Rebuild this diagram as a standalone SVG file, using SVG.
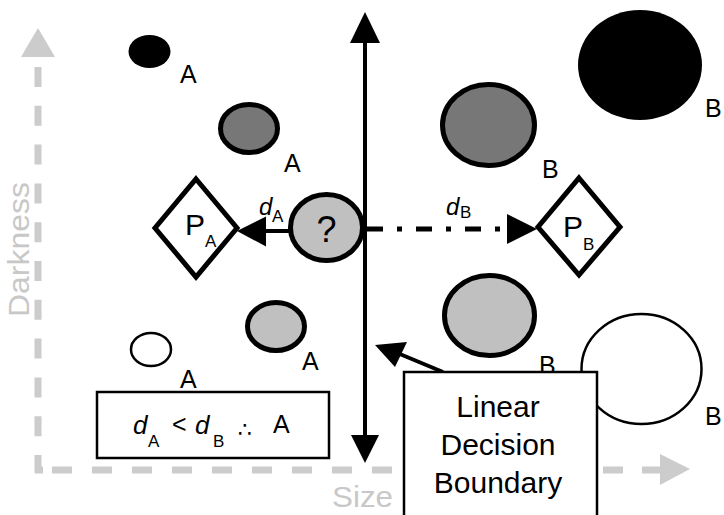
<svg xmlns="http://www.w3.org/2000/svg" width="724" height="515" viewBox="0 0 724 515">
<style>
text{font-family:"Liberation Sans",Arial,"DejaVu Sans",sans-serif;fill:#000}
.lbl{font-size:25px}
.ax{font-size:30px;fill:#c8c8c8}
.axl{stroke:#cccccc;stroke-width:7;fill:none}
.axh{fill:#cccccc}
.thick{stroke:#000;stroke-width:5}
.thin{stroke:#000;stroke-width:2.5}
.dk{fill:#777777}
.lt{fill:#c0c0c0}
.conn{stroke:#000;stroke-width:4;fill:none}
.head{fill:#000}
.it{font-style:italic}
.sub{font-size:17px}
</style>
<rect x="0" y="0" width="724" height="515" fill="#fff"/>
<g id="axes">
  <line class="axl" x1="38" y1="67" x2="38" y2="473" stroke-dasharray="20 18.8"/>
  <polygon class="axh" points="38,28 21,57 55,57"/>
  <path class="axl" d="M35,470H43M52,470H72M92,470H112M132,470H152M172,470H192M212,470H232M252,470H272M292,470H312M332,470H352M372,470H392M603,470H623M642,470H660"/>
  <polygon class="axh" points="690,469 660,454 660,485"/>
  <text class="ax" transform="translate(29,249.5) rotate(-90)" text-anchor="middle" textLength="135" lengthAdjust="spacingAndGlyphs">Darkness</text>
  <text class="ax" x="332" y="507" textLength="61" lengthAdjust="spacingAndGlyphs">Size</text>
</g>
<g id="a1"><ellipse cx="149.5" cy="51.5" rx="21" ry="16.5" fill="#000"/><text class="lbl" x="180" y="83">A</text></g>
<g id="a2"><ellipse class="thick dk" cx="249" cy="128.5" rx="28.5" ry="24"/><text class="lbl" x="284" y="172">A</text></g>
<g id="a3"><ellipse class="thin" fill="#fff" cx="151" cy="349.5" rx="20" ry="16.5"/><text class="lbl" x="180" y="388">A</text></g>
<g id="a4"><ellipse class="thick lt" cx="276" cy="326.5" rx="28.5" ry="24"/><text class="lbl" x="302" y="370">A</text></g>
<g id="b1"><ellipse cx="640" cy="65" rx="62" ry="55" fill="#000"/><text class="lbl" x="705" y="117">B</text></g>
<g id="b2"><ellipse class="thick dk" cx="488.5" cy="125" rx="46" ry="40.5"/><text class="lbl" x="542" y="178">B</text></g>
<g id="b3"><ellipse class="thick lt" cx="489.5" cy="315.5" rx="45" ry="40"/><text class="lbl" x="539" y="374">B</text></g>
<g id="b4"><ellipse class="thin" fill="#fff" cx="641.5" cy="369" rx="60" ry="55"/><text class="lbl" x="705" y="425">B</text></g>
<g id="query"><ellipse class="thick lt" cx="326.5" cy="227.5" rx="36" ry="33"/><text x="326.5" y="242" font-size="36" text-anchor="middle">?</text></g>
<g id="pa"><polygon class="thick" fill="#fff" points="196,179 237,228 196,277 155,228"/><text x="185" y="235" font-size="30">P</text><text class="sub" x="205" y="247">A</text></g>
<g id="pb"><polygon class="thick" fill="#fff" points="579,178 620,227 579,275 538,227"/><text x="563" y="237" font-size="30">P</text><text class="sub" x="583" y="250">B</text></g>
<g id="connectors">
  <line class="conn" x1="290" y1="231" x2="262" y2="231"/>
  <polygon class="head" points="237,231 266,216.5 266,246.5"/>
  <line x1="367" y1="229" x2="508" y2="229" stroke="#000" stroke-width="5" stroke-dasharray="16 14 5 14"/>
  <polygon class="head" points="537,229 507,214 507,244"/>
  <line class="conn" x1="365" y1="40" x2="365" y2="438"/>
  <polygon class="head" points="365,12 350,43 380,43"/>
  <polygon class="head" points="365,463 351,435 379,435"/>
  <line class="conn" x1="443" y1="372" x2="395" y2="352"/>
  <polygon class="head" points="375,345 407,342 395,367"/>
</g>
<g id="da"><text class="it" x="259" y="215" font-size="24">d</text><text x="272" y="222" font-size="17">A</text></g>
<g id="db"><text class="it" x="446" y="215" font-size="24">d</text><text x="460" y="218" font-size="17">B</text></g>
<g id="rule">
  <rect class="thin" fill="#fff" x="97" y="392" width="232" height="66"/>
  <text class="it" x="133" y="434" font-size="26">d</text>
  <text class="sub" x="148" y="447">A</text>
  <text x="172" y="433" font-size="25">&lt;</text>
  <text class="it" x="195" y="434" font-size="26">d</text>
  <text class="sub" x="213" y="447">B</text>
  <text x="238" y="437" font-size="22" font-family="DejaVu Sans">∴</text>
  <text x="273" y="433" font-size="25">A</text>
</g>
<g id="boundary">
  <rect class="thin" fill="#fff" x="404" y="372" width="193" height="150"/>
  <text x="498" y="417" font-size="30" text-anchor="middle">Linear</text>
  <text x="498" y="455" font-size="30" text-anchor="middle">Decision</text>
  <text x="498" y="493" font-size="30" text-anchor="middle">Boundary</text>
</g>
</svg>
